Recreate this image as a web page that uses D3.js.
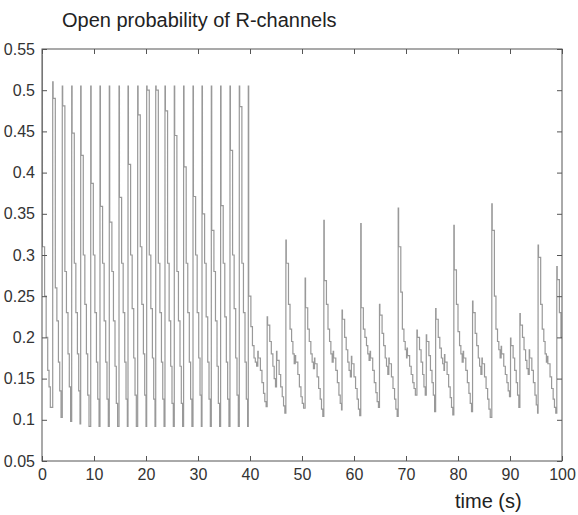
<!DOCTYPE html>
<html>
<head>
<meta charset="utf-8">
<script src="https://cdn.jsdelivr.net/npm/d3@7"></script>
<style>
body { margin: 0; background: #fff; }
text { font-family: "Liberation Sans", Arial, sans-serif; }
</style>
</head>
<body>
<script>
// rise time of each cycle (s)
var cycleStart = [0, 2.06, 3.90, 5.71, 7.44, 9.37, 11.15, 12.94, 14.81, 16.54, 18.40,
  20.13, 21.87, 23.65, 25.44, 27.23, 29.04, 30.77, 32.56, 34.35, 36.15, 37.94, 39.67,
  41.5, 43.3, 45.1, 46.9, 48.7, 50.6, 52.4, 54.2, 56.0, 57.7, 59.5, 61.3, 63.1, 64.9,
  66.7, 68.5, 70.2, 72.1, 73.9, 75.7, 77.4, 79.2, 81.0, 82.8, 84.6, 86.5, 88.3, 90.1,
  91.9, 93.7, 95.4, 97.2, 99.0];

// peak open probability of each cycle
var cyclePeak = [0.543, 0.51, 0.505, 0.505, 0.505, 0.505, 0.505, 0.505, 0.505, 0.505, 0.505,
  0.505, 0.505, 0.505, 0.505, 0.505, 0.505, 0.505, 0.505, 0.505, 0.505, 0.505, 0.505,
  0.183, 0.225, 0.183, 0.318, 0.178, 0.272, 0.175, 0.342, 0.183, 0.233, 0.177, 0.338, 0.183, 0.24,
  0.175, 0.357, 0.187, 0.209, 0.203, 0.235, 0.179, 0.336, 0.183, 0.244, 0.175, 0.362, 0.189, 0.199,
  0.229, 0.185, 0.312, 0.177, 0.286];

// staircase levels after each peak
var cycleLevels = [
  [0.31, 0.25, 0.2, 0.16, 0.14, 0.115],
  [0.49, 0.26, 0.22, 0.17, 0.135, 0.103],
  [0.481, 0.28, 0.23, 0.18, 0.14, 0.098],
  [0.448, 0.29, 0.23, 0.18, 0.135, 0.095],
  [0.421, 0.3, 0.24, 0.18, 0.13, 0.092],
  [0.387, 0.3, 0.23, 0.17, 0.125, 0.092],
  [0.359, 0.29, 0.22, 0.17, 0.125, 0.092],
  [0.34, 0.28, 0.22, 0.165, 0.12, 0.092],
  [0.37, 0.29, 0.23, 0.17, 0.125, 0.092],
  [0.41, 0.3, 0.235, 0.175, 0.13, 0.092],
  [0.47, 0.31, 0.24, 0.18, 0.13, 0.092],
  [0.5, 0.3, 0.235, 0.175, 0.125, 0.092],
  [0.5, 0.29, 0.23, 0.17, 0.125, 0.092],
  [0.475, 0.29, 0.22, 0.165, 0.12, 0.092],
  [0.445, 0.28, 0.22, 0.165, 0.12, 0.092],
  [0.407, 0.29, 0.23, 0.17, 0.125, 0.092],
  [0.371, 0.3, 0.23, 0.175, 0.13, 0.092],
  [0.35, 0.29, 0.225, 0.17, 0.125, 0.092],
  [0.33, 0.28, 0.22, 0.165, 0.12, 0.092],
  [0.36, 0.29, 0.225, 0.17, 0.125, 0.092],
  [0.427, 0.3, 0.235, 0.175, 0.13, 0.092],
  [0.48, 0.29, 0.23, 0.17, 0.125, 0.092],
  [0.25, 0.213, 0.19, 0.175, 0.17, 0.165],
  [0.175, 0.16, 0.145, 0.132, 0.122, 0.116],
  [0.215, 0.195, 0.18, 0.165, 0.15, 0.14],
  [0.172, 0.155, 0.14, 0.128, 0.117, 0.108],
  [0.29, 0.24, 0.21, 0.195, 0.18, 0.168],
  [0.17, 0.155, 0.14, 0.128, 0.12, 0.114],
  [0.236, 0.21, 0.195, 0.18, 0.17, 0.162],
  [0.168, 0.152, 0.138, 0.125, 0.113, 0.104],
  [0.269, 0.24, 0.21, 0.195, 0.18, 0.17],
  [0.175, 0.16, 0.145, 0.13, 0.12, 0.112],
  [0.222, 0.2, 0.185, 0.17, 0.16, 0.152],
  [0.168, 0.152, 0.138, 0.125, 0.113, 0.105],
  [0.236, 0.21, 0.2, 0.19, 0.18, 0.172],
  [0.175, 0.16, 0.145, 0.133, 0.122, 0.115],
  [0.227, 0.205, 0.19, 0.175, 0.165, 0.155],
  [0.168, 0.152, 0.138, 0.125, 0.113, 0.104],
  [0.31, 0.255, 0.21, 0.195, 0.185, 0.175],
  [0.178, 0.165, 0.155, 0.145, 0.138, 0.13],
  [0.2, 0.185, 0.17, 0.155, 0.14, 0.13],
  [0.195, 0.178, 0.16, 0.145, 0.13, 0.11],
  [0.222, 0.2, 0.187, 0.175, 0.168, 0.16],
  [0.17, 0.155, 0.14, 0.127, 0.115, 0.106],
  [0.282, 0.24, 0.207, 0.19, 0.18, 0.17],
  [0.175, 0.16, 0.145, 0.132, 0.12, 0.11],
  [0.23, 0.205, 0.19, 0.175, 0.165, 0.155],
  [0.168, 0.152, 0.138, 0.125, 0.113, 0.103],
  [0.33, 0.25, 0.21, 0.195, 0.185, 0.175],
  [0.18, 0.165, 0.155, 0.145, 0.135, 0.128],
  [0.19, 0.175, 0.16, 0.145, 0.13, 0.115],
  [0.215, 0.2, 0.185, 0.172, 0.162, 0.155],
  [0.175, 0.16, 0.145, 0.13, 0.118, 0.108],
  [0.297, 0.24, 0.21, 0.195, 0.18, 0.17],
  [0.168, 0.152, 0.138, 0.125, 0.115, 0.108],
  [0.27, 0.23, 0.2, 0.19, 0.18, 0.17]
];

// when each staircase level begins, after the rise (s)
var stepOffset = [0.08, 0.5, 0.8, 1.1, 1.35, 1.6];
var tEnd = 100;

var xTicks = [0, 10, 20, 30, 40, 50, 60, 70, 80, 90, 100];
var yTicks = [0.05, 0.1, 0.15, 0.2, 0.25, 0.3, 0.35, 0.4, 0.45, 0.5, 0.55];
var yTickLabels = ["0.05", "0.1", "0.15", "0.2", "0.25", "0.3", "0.35", "0.4", "0.45", "0.5", "0.55"];

var W = 578, H = 515;
var plotL = 42, plotR = 562, plotT = 49, plotB = 461;

var svg = d3.select("body").append("svg")
  .attr("width", W)
  .attr("height", H);

var x = d3.scaleLinear().domain([0, 100]).range([plotL, plotR]);
var y = d3.scaleLinear().domain([0.05, 0.55]).range([plotB, plotT]);

// step points
var pts = [];
var last = 0;
cycleStart.forEach(function(t0, i){
  var tNext = i < cycleStart.length - 1 ? cycleStart[i + 1] : tEnd;
  pts.push([t0, cyclePeak[i]]);
  last = cyclePeak[i];
  cycleLevels[i].forEach(function(v, j){
    var t = t0 + stepOffset[j];
    if (t < tNext) { pts.push([t, v]); last = v; }
  });
});
pts.push([tEnd, last]);

svg.append("clipPath").attr("id", "plotclip")
  .append("rect")
  .attr("x", plotL).attr("y", plotT)
  .attr("width", plotR - plotL).attr("height", plotB - plotT);

var line = d3.line()
  .x(function(d){ return x(d[0]); })
  .y(function(d){ return y(d[1]); })
  .curve(d3.curveStepAfter);

svg.append("path")
  .datum(pts)
  .attr("clip-path", "url(#plotclip)")
  .attr("d", line)
  .attr("fill", "none")
  .attr("stroke", "#999")
  .attr("stroke-width", 1.2);

// axes, ticks pointing inwards
var axisCol = "#555";
var gB = svg.append("g").attr("transform", "translate(0," + plotB + ")")
  .call(d3.axisBottom(x).tickValues(xTicks).tickSizeInner(-5).tickSizeOuter(0).tickPadding(8));
var gT = svg.append("g").attr("transform", "translate(0," + plotT + ")")
  .call(d3.axisTop(x).tickValues(xTicks).tickSizeInner(-5).tickSizeOuter(0).tickFormat(""));
var gL = svg.append("g").attr("transform", "translate(" + plotL + ",0)")
  .call(d3.axisLeft(y).tickValues(yTicks).tickSizeInner(-5).tickSizeOuter(0).tickPadding(7)
    .tickFormat(function(d, i){ return yTickLabels[i]; }));
var gR = svg.append("g").attr("transform", "translate(" + plotR + ",0)")
  .call(d3.axisRight(y).tickValues(yTicks).tickSizeInner(-5).tickSizeOuter(0).tickFormat(""));

[gB, gT, gL, gR].forEach(function(g){
  g.select(".domain").remove();
  g.selectAll(".tick line").attr("stroke", axisCol);
  g.selectAll(".tick text")
    .attr("fill", "#333")
    .style("font-size", "16px")
    .style("font-family", "'Liberation Sans', Arial, sans-serif");
});

svg.append("rect")
  .attr("x", plotL).attr("y", plotT)
  .attr("width", plotR - plotL).attr("height", plotB - plotT)
  .attr("fill", "none")
  .attr("stroke", axisCol)
  .attr("stroke-width", 1);

svg.append("text")
  .attr("x", 62).attr("y", 27)
  .attr("fill", "#222")
  .style("font-size", "20px")
  .text("Open probability of R-channels");

svg.append("text")
  .attr("x", 455).attr("y", 508)
  .attr("fill", "#222")
  .style("font-size", "20px")
  .text("time (s)");
</script>
</body>
</html>
